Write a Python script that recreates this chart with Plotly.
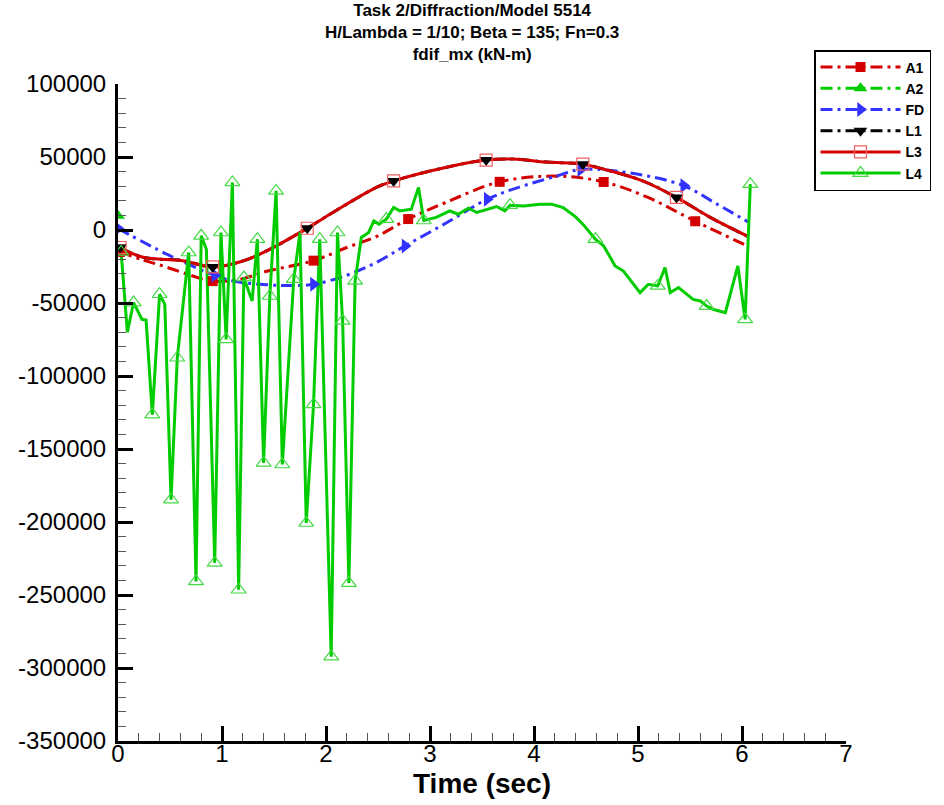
import plotly.graph_objects as go

# ---------------- data ----------------
A1_T = [0.02, 0.24, 0.47, 0.72, 0.91, 1.17, 1.43, 1.88, 2.20, 2.49, 2.79, 3.16, 3.67, 4.22, 4.67, 5.09, 5.55, 6.06]
A1_V = [-15000, -20500, -25500, -31500, -35000, -33800, -28300, -21000, -12000, -4300, 7500, 19100,
        33000, 36900, 32900, 22500, 6000, -11100]
A1_MARK = [0, 4, 7, 10, 12, 14, 16]

A2_T = [0.0]
A2_V = [9700]
A2_MARK = [0]

FD_T = [0.0, 0.47, 0.79, 0.93, 1.11, 1.43, 1.65, 1.88, 2.20, 2.49, 2.76, 3.16, 3.55, 3.80, 4.22, 4.45,
        4.99, 5.44, 5.76, 6.06]
FD_V = [1000, -16600, -27000, -31000, -35000, -37500, -38000, -37200, -31000, -22000, -10900, 5000,
        21100, 28000, 37000, 41500, 38300, 30300, 17700, 5500]
FD_MARK = [0, 3, 7, 10, 12, 15, 17]

L1_T = [0.02, 0.24, 0.62, 0.91, 1.17, 1.43, 1.82, 2.07, 2.49, 2.65, 3.16, 3.54, 3.80, 4.12, 4.47, 4.67,
        5.05, 5.37, 5.69, 6.06]
L1_V = [-12000, -18700, -21000, -25300, -21900, -14300, 1200, 12200, 29300, 33600, 43000, 47900, 48600,
        46500, 45100, 41700, 33500, 22300, 8800, -4500]
L1_MARK = [0, 3, 6, 9, 11, 14, 17]

L3_T = [0.02, 0.24, 0.62, 0.91, 1.17, 1.43, 1.82, 2.07, 2.49, 2.65, 3.16, 3.54, 3.80, 4.12, 4.47, 4.67,
        5.05, 5.37, 5.69, 6.06]
L3_V = [-12000, -18700, -21000, -25300, -21900, -14300, 1200, 12200, 29300, 33600, 43000, 47900, 48600,
        46500, 45100, 41700, 33500, 22300, 8800, -4500]
L3_MARK = [0, 3, 6, 9, 11, 14, 17]

L4_T = [0.03, 0.09, 0.15, 0.23, 0.27, 0.33, 0.40, 0.45, 0.51, 0.57, 0.68, 0.75, 0.80, 0.85, 0.93, 0.99,
        1.04, 1.10, 1.16, 1.21, 1.29, 1.34, 1.40, 1.46, 1.52, 1.58, 1.69, 1.75, 1.81, 1.88, 1.94, 2.05,
        2.11, 2.16, 2.22, 2.28, 2.34, 2.41, 2.46, 2.51, 2.58, 2.65, 2.71, 2.82, 2.89, 2.94, 3.06, 3.19,
        3.27, 3.37, 3.45, 3.55, 3.64, 3.72, 3.77, 3.90, 4.06, 4.17, 4.28, 4.40, 4.47, 4.59, 4.67, 4.78,
        4.86, 5.02, 5.10, 5.19, 5.26, 5.31, 5.39, 5.53, 5.60, 5.66, 5.72, 5.84, 5.96, 6.03, 6.08]
L4_V = [-15000, -70000, -49700, -61200, -61700, -126400, -44000, -50900, -184700, -87500, -15400,
        -240700, -4000, -13200, -228000, -1700, -74900, 32600, -246400, -32600, -48600, -6300, -159500,
        -45200, 26800, -160600, -33700, -1700, -200700, -119500, -6300, -292200, -1700, -62300, -241800,
        -34900, -5100, -1700, 6200, 4000, 7400, 15400, 13100, 14300, 29200, 6500, 8600, 13100, 10800,
        15000, 12000, 14300, 16100, 13100, 17000, 16500, 17700, 17700, 15400, 9000, 4000, -6300, -10900,
        -24600, -28100, -42900, -37200, -38300, -25700, -42900, -39400, -47500, -48600, -52100, -54300,
        -56600, -24600, -61200, 31400]
L4_MARK = [0, 2, 5, 6, 8, 9, 10, 11, 12, 14, 15, 16, 17, 18, 19, 21, 22, 23, 24, 25, 26, 28, 29, 30,
           31, 32, 33, 34, 35, 40, 45, 54, 61, 67, 73, 77, 78]

X_TICKS = [0, 1, 2, 3, 4, 5, 6, 7]
Y_TICKS = [100000, 50000, 0, -50000, -100000, -150000, -200000, -250000, -300000, -350000]

TITLE_LINES = ["Task 2/Diffraction/Model 5514",
               "H/Lambda = 1/10; Beta = 135; Fn=0.3",
               "fdif_mx (kN-m)"]

# ---------------- styling ----------------
W, H = 944, 805
ML, MR, MT, MB = 118, 98, 84, 64
FONT = "Arial, Liberation Sans, Helvetica, sans-serif"
RED = "#d40000"
GREEN = "#00cc00"
BLUE = "#3333ff"
BLACK = "#000000"
DASHDOT = "12px,5px,3px,5px"


def pick(vals, idx):
    return [vals[i] for i in idx]


def py2paper(ry):
    return (H - MB - ry) / (H - MB - MT)


def px2paper(rx):
    return (rx - ML) / (W - ML - MR)


series = [
    ("A1", A1_T, A1_V, A1_MARK, RED, DASHDOT, "spline",
     dict(symbol="square", size=10, color=RED, line=dict(width=0))),
    ("A2", A2_T, A2_V, A2_MARK, GREEN, DASHDOT, "spline",
     dict(symbol="triangle-up", size=12, color=GREEN, line=dict(width=0))),
    ("FD", FD_T, FD_V, FD_MARK, BLUE, DASHDOT, "spline",
     dict(symbol="triangle-right", size=13, color=BLUE, line=dict(width=0))),
    ("L1", L1_T, L1_V, L1_MARK, BLACK, DASHDOT, "spline",
     dict(symbol="triangle-down", size=12, color=BLACK, line=dict(width=0))),
    ("L3", L3_T, L3_V, L3_MARK, RED, "solid", "spline",
     dict(symbol="square-open", size=12, color="#f06060", line=dict(width=1.2, color="#f06060"))),
    ("L4", L4_T, L4_V, L4_MARK, GREEN, "solid", "linear",
     dict(symbol="triangle-up-open", size=13, color="#44d844", line=dict(width=1.2, color="#44d844"))),
]

fig = go.Figure()

# lines first
for name, t, v, mk, col, dash, shape, mdict in series:
    fig.add_trace(go.Scatter(x=t, y=v, mode="lines", name=name, showlegend=False,
                             line=dict(color=col, width=3, dash=dash, shape=shape),
                             hoverinfo="skip"))
# then symbols
for name, t, v, mk, col, dash, shape, mdict in series:
    fig.add_trace(go.Scatter(x=pick(t, mk), y=pick(v, mk), mode="markers", name=name,
                             showlegend=False, marker=mdict, hoverinfo="skip"))
# legend entries
for name, t, v, mk, col, dash, shape, mdict in series:
    fig.add_trace(go.Scatter(x=[None], y=[None], mode="lines+markers", name="<b>%s</b>" % name,
                             line=dict(color=col, width=3, dash=dash), marker=mdict))

fig.add_annotation(text="<br>".join("<b>%s</b>" % s for s in TITLE_LINES),
                   xref="paper", yref="paper",
                   x=px2paper(472), y=py2paper(32), xanchor="center", yanchor="middle",
                   showarrow=False, align="center",
                   font=dict(family=FONT, size=17, color="black"))

axis_common = dict(showline=True, linewidth=3, linecolor="black", mirror=False,
                   ticks="inside", ticklen=15, tickwidth=3, tickcolor="black",
                   showgrid=False, zeroline=False, automargin=False,
                   tickfont=dict(family=FONT, size=24, color="black"))

fig.update_layout(
    width=W, height=H,
    margin=dict(l=ML, r=MR, t=MT, b=MB, pad=0, autoexpand=False),
    paper_bgcolor="white", plot_bgcolor="white",
    font=dict(family=FONT, color="black"),
    xaxis=dict(range=[0, 7], tickmode="array", tickvals=X_TICKS,
               ticktext=[str(v) for v in X_TICKS],
               minor=dict(ticks="inside", ticklen=8, tickwidth=1, tickcolor="#555555",
                          tick0=0, dtick=0.2),
               ticklabelstandoff=-11,
               title=dict(text="<b>Time (sec)</b>", font=dict(family=FONT, size=28, color="black"),
                          standoff=8),
               **axis_common),
    yaxis=dict(range=[-350000, 100000], tickmode="array", tickvals=Y_TICKS,
               ticktext=[str(v) for v in Y_TICKS],
               minor=dict(ticks="inside", ticklen=8, tickwidth=1, tickcolor="#555555",
                          tick0=0, dtick=10000),
               ticklabelstandoff=4,
               **axis_common),
    legend=dict(xref="container", yref="container",
                x=814 / W, y=1 - 50 / H, xanchor="left", yanchor="top",
                bgcolor="white", bordercolor="black", borderwidth=1.5,
                font=dict(family=FONT, size=14, color="black"),
                tracegroupgap=0, itemwidth=80),
    showlegend=True,
)

# remove the browser's default 8px body margin so the figure sits at the page origin
fig.write_html("out.html",
               config={"displayModeBar": False},
               post_script="document.body.style.margin='0px';document.body.style.overflow='hidden';")
